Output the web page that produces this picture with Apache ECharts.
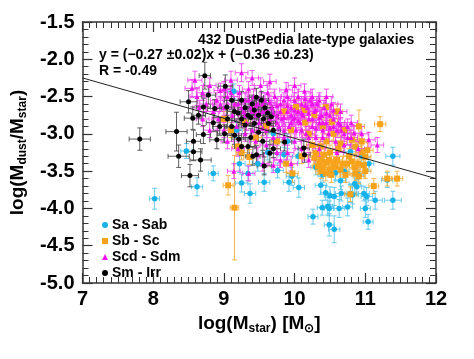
<!DOCTYPE html>
<html><head><meta charset="utf-8">
<script src="https://cdn.jsdelivr.net/npm/echarts@6/dist/echarts.min.js"></script>
<style>html,body{margin:0;padding:0;background:#fff}#c{width:474px;height:359px}</style>
</head><body><div id="c"></div>
<script>
// [logMstar, logMdust/Mstar, xErr, yErr]
const saSab = [
[8.02,-3.87,0.07,0.14],[8.47,-3.23,0.08,0.10],[8.62,-3.71,0.08,0.12],[8.85,-3.53,0.07,0.10],
[9.14,-2.43,0.08,0.10],[9.18,-2.95,0.08,0.10],[9.22,-3.40,0.08,0.12],[9.25,-3.66,0.09,0.12],
[9.37,-3.80,0.08,0.13],[9.34,-3.53,0.07,0.10],[9.48,-3.40,0.08,0.10],[9.57,-3.65,0.08,0.12],
[9.62,-3.25,0.08,0.10],[9.76,-3.49,0.08,0.10],[9.85,-3.28,0.07,0.10],[9.96,-3.57,0.08,0.12],
[10.06,-3.72,0.08,0.13],[9.92,-3.65,0.08,0.12],[10.05,-3.30,0.08,0.10],[10.26,-4.11,0.07,0.10],
[10.37,-3.69,0.08,0.12],[10.39,-3.99,0.07,0.10],[10.44,-3.79,0.07,0.10],[10.47,-3.97,0.07,0.12],
[10.49,-4.00,0.07,0.10],[10.49,-4.22,0.07,0.15],[10.56,-4.28,0.08,0.18],[10.50,-3.83,0.08,0.12],
[10.56,-3.84,0.08,0.12],[10.65,-3.63,0.08,0.12],[10.63,-4.00,0.08,0.12],[10.66,-3.80,0.08,0.10],
[10.75,-3.98,0.07,0.12],[10.79,-3.80,0.08,0.12],[10.82,-3.82,0.08,0.12],[10.85,-3.67,0.08,0.12],
[10.88,-3.71,0.07,0.10],[10.90,-3.55,0.08,0.10],[10.98,-3.80,0.08,0.10],[11.00,-4.00,0.07,0.12],
[11.02,-3.84,0.08,0.12],[11.04,-4.18,0.07,0.10],[11.14,-3.89,0.10,0.12],[11.39,-3.89,0.12,0.12],
[11.39,-3.30,0.10,0.12],[11.31,-3.62,0.08,0.10],[10.79,-3.24,0.08,0.10],[10.70,-3.50,0.07,0.10],
[10.58,-3.52,0.07,0.10],[10.40,-3.55,0.07,0.10],[10.30,-3.45,0.07,0.10],[11.05,-3.40,0.07,0.10],
[10.95,-3.30,0.08,0.10],[9.70,-3.00,0.08,0.10],[9.90,-3.10,0.08,0.10]
];
const sbSc = [
[9.06,-3.69,0.07,0.13],[9.15,-3.99,0.06,0.70],[9.20,-3.17,0.08,0.10],[9.36,-3.31,0.08,0.10],
[9.10,-2.95,0.08,0.10],[9.30,-2.85,0.08,0.10],[9.45,-3.05,0.08,0.10],[9.60,-2.90,0.08,0.10],
[9.75,-3.10,0.08,0.10],[9.88,-3.40,0.08,0.12],[9.97,-3.53,0.08,0.12],[10.02,-2.64,0.08,0.10],
[10.14,-2.68,0.08,0.10],[10.28,-2.75,0.08,0.10],[10.44,-2.64,0.08,0.12],[10.53,-2.84,0.08,0.12],
[10.91,-2.90,0.08,0.22],[11.21,-2.87,0.08,0.10],[11.45,-3.60,0.08,0.10],[11.31,-3.60,0.07,0.10],
[11.12,-3.70,0.07,0.10],[10.98,-3.42,0.08,0.10],[10.91,-3.57,0.08,0.10],[10.86,-3.53,0.08,0.10],
[10.81,-3.37,0.08,0.10],[10.74,-3.40,0.08,0.10],[10.68,-3.40,0.08,0.10],[10.58,-3.44,0.08,0.10],
[10.49,-3.35,0.08,0.10],[10.37,-3.35,0.08,0.10],[10.33,-3.44,0.08,0.10],[10.30,-3.26,0.08,0.10],
[10.44,-3.53,0.08,0.10],[10.79,-3.81,0.08,0.10],[11.03,-3.22,0.08,0.10],[11.00,-3.31,0.08,0.10],
[10.81,-3.08,0.08,0.10],[10.86,-3.17,0.08,0.10],[10.65,-3.13,0.08,0.10],[10.37,-3.17,0.08,0.10],
[10.20,-3.00,0.08,0.10],[10.10,-3.30,0.08,0.10],[10.55,-3.00,0.08,0.10],[10.70,-2.95,0.08,0.10],
[10.62,-3.20,0.08,0.10],[10.45,-3.10,0.08,0.10],[10.25,-3.15,0.08,0.10],[10.15,-2.85,0.08,0.10],
[9.95,-2.95,0.08,0.10],[9.85,-2.70,0.08,0.10],[10.40,-2.90,0.08,0.10],[10.60,-2.70,0.08,0.10],
[10.95,-3.10,0.08,0.10],[10.50,-3.25,0.08,0.10],[10.90,-3.40,0.08,0.10],[10.72,-3.55,0.08,0.10],
[9.00,-2.80,0.08,0.10],[9.25,-3.25,0.08,0.10],[10.35,-3.40,0.08,0.10],[10.40,-3.45,0.08,0.10],
[10.45,-3.38,0.08,0.10],[10.50,-3.48,0.08,0.10],[10.55,-3.40,0.08,0.10],[10.42,-3.28,0.08,0.10],
[10.60,-3.35,0.08,0.10],[10.38,-3.50,0.08,0.10],[10.52,-3.55,0.08,0.10],[10.65,-3.48,0.08,0.10],
[10.85,-3.45,0.08,0.10],[10.95,-3.25,0.08,0.10],[11.00,-3.50,0.08,0.10],[10.77,-3.30,0.08,0.10],
[10.28,-3.32,0.08,0.10]
];
const scdSdm = [
[8.55,-2.39,0.10,0.12],[8.59,-2.28,0.10,0.12],[8.62,-2.50,0.10,0.12],[8.70,-2.45,0.09,0.10],
[8.75,-2.60,0.09,0.10],[8.80,-2.35,0.09,0.10],[8.85,-2.70,0.09,0.10],[8.90,-2.55,0.09,0.10],
[8.92,-2.80,0.09,0.10],[8.95,-2.42,0.09,0.10],[9.00,-2.65,0.09,0.10],[9.05,-2.50,0.09,0.10],
[9.10,-2.28,0.09,0.12],[9.12,-2.75,0.09,0.10],[9.15,-2.60,0.09,0.10],[9.18,-2.90,0.09,0.10],
[9.22,-2.45,0.09,0.10],[9.25,-2.18,0.09,0.12],[9.28,-2.70,0.09,0.10],[9.30,-2.55,0.09,0.10],
[9.32,-2.85,0.09,0.10],[9.35,-2.40,0.09,0.10],[9.38,-2.65,0.09,0.10],[9.40,-2.95,0.09,0.10],
[9.42,-2.50,0.09,0.10],[9.45,-2.75,0.09,0.10],[9.48,-2.60,0.09,0.10],[9.50,-2.85,0.09,0.10],
[9.52,-2.35,0.09,0.10],[9.55,-2.70,0.09,0.10],[9.58,-2.55,0.09,0.10],[9.60,-2.95,0.09,0.10],
[9.62,-2.45,0.09,0.10],[9.65,-2.80,0.09,0.10],[9.68,-2.65,0.09,0.10],[9.70,-3.05,0.09,0.10],
[9.72,-2.50,0.09,0.10],[9.75,-2.75,0.09,0.10],[9.78,-2.90,0.09,0.10],[9.80,-2.60,0.09,0.10],
[9.82,-2.80,0.09,0.10],[9.85,-2.55,0.09,0.10],[9.88,-2.41,0.09,0.10],[9.90,-2.70,0.09,0.10],
[9.92,-2.90,0.09,0.10],[9.95,-2.65,0.09,0.10],[9.98,-2.80,0.09,0.10],[10.00,-2.55,0.09,0.10],
[10.02,-2.95,0.09,0.10],[10.05,-2.70,0.09,0.10],[10.08,-2.85,0.09,0.10],[10.10,-2.60,0.09,0.10],
[10.12,-2.75,0.09,0.10],[10.14,-2.43,0.09,0.10],[10.16,-3.00,0.09,0.10],[10.18,-2.65,0.09,0.10],
[10.20,-2.80,0.09,0.10],[10.22,-2.55,0.09,0.10],[10.25,-2.90,0.09,0.10],[10.28,-2.70,0.09,0.10],
[10.30,-3.05,0.09,0.10],[10.32,-2.60,0.09,0.10],[10.35,-2.85,0.09,0.10],[10.38,-2.75,0.09,0.10],
[10.40,-2.95,0.09,0.10],[10.42,-2.65,0.09,0.10],[10.45,-2.85,0.09,0.10],[10.48,-3.00,0.09,0.10],
[10.50,-2.75,0.09,0.10],[10.55,-2.90,0.09,0.10],[10.58,-3.10,0.09,0.10],[10.62,-2.85,0.09,0.10],
[10.66,-2.95,0.09,0.10],[10.70,-3.15,0.09,0.10],[10.75,-2.90,0.09,0.10],[10.80,-3.05,0.09,0.10],
[10.84,-2.99,0.09,0.10],[10.90,-3.20,0.09,0.10],[11.17,-3.15,0.09,0.10],[9.35,-3.53,0.09,0.10],
[9.14,-3.50,0.09,0.10],[9.55,-3.40,0.09,0.10],[9.70,-3.42,0.09,0.10],[9.48,-3.28,0.09,0.10],
[9.80,-3.35,0.09,0.10],[9.20,-3.20,0.09,0.10],[9.05,-3.10,0.09,0.10],[9.60,-3.15,0.09,0.10],
[9.90,-3.25,0.09,0.10],[10.00,-3.10,0.09,0.10],[10.10,-3.20,0.09,0.10],[9.45,-3.10,0.09,0.10],
[9.75,-3.25,0.09,0.10],[8.80,-2.95,0.09,0.10],[8.70,-2.80,0.09,0.10],[9.00,-2.95,0.09,0.10],
[10.00,-2.35,0.09,0.10],[9.65,-2.30,0.09,0.10],[9.40,-2.25,0.09,0.10],[10.25,-2.50,0.09,0.10],
[10.45,-2.50,0.09,0.10],[9.95,-3.40,0.09,0.10],[10.35,-3.20,0.09,0.10],[10.60,-3.25,0.09,0.10],
[10.20,-3.35,0.09,0.10],[9.30,-3.00,0.09,0.10],[9.85,-3.05,0.09,0.10],[10.52,-2.60,0.09,0.10],
[10.65,-2.70,0.09,0.10],
[9.20,-2.60,0.09,0.10],[9.25,-2.65,0.09,0.10],[9.30,-2.75,0.09,0.10],[9.35,-2.55,0.09,0.10],
[9.40,-2.70,0.09,0.10],[9.45,-2.62,0.09,0.10],[9.50,-2.72,0.09,0.10],[9.55,-2.60,0.09,0.10],
[9.60,-2.68,0.09,0.10],[9.65,-2.58,0.09,0.10],[9.70,-2.72,0.09,0.10],[9.75,-2.62,0.09,0.10],
[9.80,-2.70,0.09,0.10],[9.85,-2.78,0.09,0.10],[9.90,-2.62,0.09,0.10],[9.95,-2.75,0.09,0.10],
[10.00,-2.68,0.09,0.10],[10.05,-2.82,0.09,0.10],[10.10,-2.72,0.09,0.10],[10.15,-2.62,0.09,0.10],
[10.20,-2.72,0.09,0.10],[10.25,-2.80,0.09,0.10],[10.30,-2.68,0.09,0.10],[10.35,-2.78,0.09,0.10],
[10.40,-2.85,0.09,0.10],[10.45,-2.72,0.09,0.10],[10.50,-2.92,0.09,0.10],[10.55,-2.80,0.09,0.10],
[10.60,-2.95,0.09,0.10],[10.65,-2.88,0.09,0.10],[10.70,-3.00,0.09,0.10],[10.75,-3.05,0.09,0.10],
[10.10,-2.95,0.09,0.10],[10.30,-2.92,0.09,0.10],[9.95,-2.85,0.09,0.10],[9.75,-2.85,0.09,0.10],
[9.55,-2.92,0.09,0.10],[10.20,-3.05,0.09,0.10],[10.40,-3.05,0.09,0.10],[9.85,-2.95,0.09,0.10],
[10.00,-2.78,0.09,0.10],[10.25,-2.60,0.09,0.10],[10.05,-2.50,0.09,0.10],[9.90,-2.50,0.09,0.10],
[10.35,-2.55,0.09,0.10],[10.15,-2.53,0.09,0.10],[10.55,-2.68,0.09,0.10],[10.80,-2.85,0.09,0.10],
[10.95,-3.00,0.09,0.10],[11.05,-3.08,0.09,0.10],[9.10,-2.45,0.09,0.10],[8.95,-2.60,0.09,0.10],
[9.00,-2.40,0.09,0.10],[8.65,-2.65,0.09,0.10]
];
const smIrr = [
[7.81,-3.07,0.15,0.15],[8.33,-2.97,0.15,0.26],[8.36,-3.30,0.15,0.15],[8.52,-3.56,0.12,0.15],
[8.50,-2.57,0.12,0.15],[8.56,-2.79,0.12,0.15],[8.57,-3.10,0.10,0.15],[8.57,-3.24,0.12,0.12],
[8.67,-3.35,0.15,0.15],[8.71,-3.01,0.10,0.12],[8.71,-2.64,0.10,0.12],[8.73,-2.22,0.08,0.18],
[8.78,-2.48,0.10,0.12],[8.64,-2.75,0.10,0.12],[8.87,-2.66,0.10,0.12],[8.94,-2.90,0.10,0.12],
[8.90,-3.08,0.10,0.12],[9.02,-2.36,0.10,0.15],[9.01,-3.00,0.10,0.12],[9.04,-2.64,0.10,0.12],
[9.11,-2.55,0.10,0.12],[9.15,-2.70,0.10,0.12],[9.20,-2.72,0.10,0.12],[9.25,-2.55,0.10,0.12],
[9.30,-2.65,0.10,0.12],[9.43,-2.68,0.10,0.12],[9.46,-2.51,0.10,0.12],[9.53,-2.55,0.10,0.12],
[9.62,-2.72,0.10,0.12],[9.67,-2.77,0.10,0.12],[9.65,-3.26,0.10,0.12],[9.57,-3.43,0.10,0.12],
[9.46,-3.28,0.10,0.12],[9.41,-3.30,0.10,0.12],[9.34,-3.17,0.10,0.12],[9.25,-3.17,0.10,0.12],
[9.21,-3.07,0.10,0.12],[9.15,-3.02,0.10,0.12],[9.11,-2.90,0.10,0.12],[9.49,-2.98,0.10,0.12],
[9.30,-2.88,0.10,0.12],[9.25,-2.80,0.10,0.12],[9.34,-2.75,0.10,0.12],[9.38,-2.78,0.10,0.12],
[9.43,-2.86,0.10,0.12],[9.49,-2.75,0.10,0.12],[9.56,-2.80,0.10,0.12],[9.63,-2.86,0.10,0.12],
[9.86,-3.11,0.10,0.12],[10.13,-3.19,0.08,0.12],[10.14,-3.28,0.08,0.10],[9.70,-3.20,0.10,0.12],
[9.38,-3.05,0.10,0.12],[9.55,-3.10,0.10,0.12],[8.85,-2.85,0.10,0.12],[9.05,-2.80,0.10,0.12],
[9.40,-2.60,0.10,0.12],[9.58,-2.65,0.10,0.12],[9.70,-2.95,0.10,0.12]
];
const fitSlope = -0.27, fitIntercept = -0.36;
const fitX = [7, 12];
const xTicks = [7, 8, 9, 10, 11, 12];
const yTicks = [-5.0, -4.5, -4.0, -3.5, -3.0, -2.5, -2.0, -1.5];

const FONT = '"Liberation Sans", Arial, Helvetica, sans-serif';
const chart = echarts.init(document.getElementById('c'), null, {renderer: 'canvas'});

function errSeries(data, color) {
  return {
    type: 'custom', silent: true, z: 2,
    data: data,
    renderItem: function (params, api) {
      const x = api.value(0), y = api.value(1), ex = api.value(2), ey = api.value(3);
      const l = api.coord([x - ex, y]), r = api.coord([x + ex, y]);
      const t = api.coord([x, y + ey]), b = api.coord([x, y - ey]);
      const c = 2.5;
      const st = {stroke: color, lineWidth: 1};
      return {type: 'group', children: [
        {type: 'line', shape: {x1: l[0], y1: l[1], x2: r[0], y2: r[1]}, style: st},
        {type: 'line', shape: {x1: t[0], y1: t[1], x2: b[0], y2: b[1]}, style: st},
        {type: 'line', shape: {x1: l[0], y1: l[1] - c, x2: l[0], y2: l[1] + c}, style: st},
        {type: 'line', shape: {x1: r[0], y1: r[1] - c, x2: r[0], y2: r[1] + c}, style: st},
        {type: 'line', shape: {x1: t[0] - c, y1: t[1], x2: t[0] + c, y2: t[1]}, style: st},
        {type: 'line', shape: {x1: b[0] - c, y1: b[1], x2: b[0] + c, y2: b[1]}, style: st}
      ]};
    }
  };
}
function ptSeries(name, data, color, symbol, size) {
  return {type: 'scatter', name: name, data: data.map(d => [d[0], d[1]]), symbol: symbol,
    symbolSize: size, itemStyle: {color: color, opacity: 1}, z: 3, silent: true};
}

const groups = [
  {name: 'Sa - Sab', data: saSab, c: '#16b2ea', e: 'rgba(80,195,235,0.85)', s: 'circle', z: 5.5},
  {name: 'Sb - Sc', data: sbSc, c: '#f7a21b', e: 'rgba(245,170,50,0.85)', s: 'rect', z: 6},
  {name: 'Scd - Sdm', data: scdSdm, c: '#f010f0', e: 'rgba(240,60,240,0.85)', s: 'triangle', z: 5},
  {name: 'Sm - Irr', data: smIrr, c: '#000000', e: 'rgba(70,70,70,0.85)', s: 'circle', z: 5}
];
const series = [];
groups.forEach(g => { series.push(errSeries(g.data, g.e)); series.push(ptSeries(g.name, g.data, g.c, g.s, g.z)); });
series.push({type: 'line', data: fitX.map(x => [x, fitSlope * x + fitIntercept]), symbol: 'none',
  lineStyle: {color: '#222', width: 1}, z: 10, silent: true});

const axLine = {show: true, lineStyle: {color: '#333', width: 1.5}};
const lab = {fontFamily: FONT, fontWeight: 'bold', fontSize: 20, color: '#000'};
const rich = {
  a: {fontFamily: FONT, fontWeight: 'bold', fontSize: 19, color: '#000'},
  s: {fontFamily: FONT, fontWeight: 'bold', fontSize: 12, color: '#000', padding: [10, 0, 0, 0]},
  o: {fontFamily: FONT, fontWeight: 'bold', fontSize: 12, color: '#000', padding: [10, 0, 0, 0]}
};
function xa(pos, show) {
  return {type: 'value', position: pos, min: xTicks[0], max: xTicks[xTicks.length - 1], interval: 1,
    axisLine: axLine, splitLine: {show: false},
    axisTick: {show: true, inside: true, length: 10, lineStyle: {color: '#333', width: 1.2}},
    minorTick: {show: true, splitNumber: 10, length: 6, lineStyle: {color: '#333', width: 1}},
    axisLabel: Object.assign({show: show, margin: 6}, lab),
    name: show ? '{a|log(M}{s|star}{a|) [M}{o|⊙}{a|]}' : '', nameLocation: 'middle', nameGap: 26,
    nameTextStyle: {rich: rich}};
}
function ya(pos, show) {
  return {type: 'value', position: pos, min: yTicks[0], max: yTicks[yTicks.length - 1], interval: 0.5,
    axisLine: axLine, splitLine: {show: false},
    axisTick: {show: true, inside: true, length: 10, lineStyle: {color: '#333', width: 1.2}},
    minorTick: {show: true, splitNumber: 5, length: 6, lineStyle: {color: '#333', width: 1}},
    axisLabel: Object.assign({show: show, margin: 8, formatter: v => v.toFixed(1)}, lab),
    name: show ? '{a|log(M}{s|dust}{a|/M}{s|star}{a|)}' : '', nameLocation: 'middle', nameGap: 54,
    nameTextStyle: {rich: rich}};
}

chart.setOption({
  animation: false,
  backgroundColor: '#fff',
  grid: {left: 80, right: 38, top: 22, bottom: 76},
  xAxis: [xa('bottom', true), xa('top', false)],
  yAxis: [ya('left', true), ya('right', false)],
  legend: {orient: 'vertical', left: 97, top: 213, itemWidth: 6, itemHeight: 6, itemGap: 2,
    data: groups.map(g => g.name),
    textStyle: {fontFamily: FONT, fontWeight: 'bold', fontSize: 14, color: '#000', lineHeight: 13, padding: [0, 0, 0, -1]}},
  graphic: [
    {type: 'text', left: 198, top: 33, style: {text: '432 DustPedia late-type galaxies', font: 'bold 14px ' + FONT, fill: '#000'}},
    {type: 'text', left: 99, top: 48, style: {text: 'y = (\u22120.27 \u00b10.02)x + (\u22120.36 \u00b10.23)', font: 'bold 14px ' + FONT, fill: '#000'}},
    {type: 'text', left: 99, top: 64, style: {text: 'R = -0.49', font: 'bold 14px ' + FONT, fill: '#000'}}
  ],
  series: series
});
</script></body></html>
